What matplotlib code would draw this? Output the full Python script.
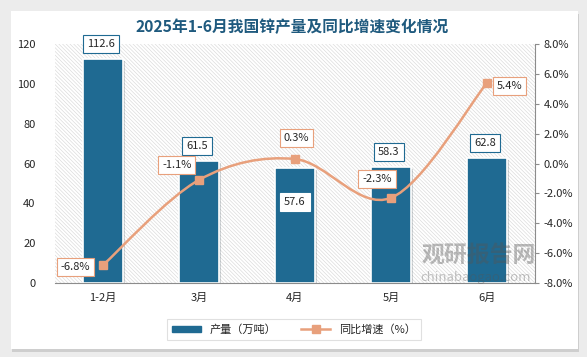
import numpy as np
import matplotlib
matplotlib.use("Agg")
import matplotlib.pyplot as plt
from matplotlib.patches import Rectangle
from matplotlib.path import Path
from matplotlib.patches import PathPatch
from matplotlib import patheffects as pe
from matplotlib.ticker import FuncFormatter

plt.rcParams['font.family'] = ['Noto Sans CJK SC', 'DejaVu Sans']
plt.rcParams['hatch.linewidth'] = 0.45

# data
months = ['1-2月', '3月', '4月', '5月', '6月']
output = [112.6, 61.5, 57.6, 58.3, 62.8]       # 万吨
growth = [-6.8, -1.1, 0.3, -2.3, 5.4]          # %

BAR = '#1f6a92'
LINE = '#e8a07c'
TXT = '#262626'

W, H = 587, 357
fig = plt.figure(figsize=(W / 100, H / 100), dpi=100)
fig.patch.set_facecolor('#ececec')

# white card with a soft shadow
card = Rectangle((11 / W, 1 - 349 / H), 567 / W, 338 / H, transform=fig.transFigure,
                 facecolor='white', edgecolor='none', zorder=-10,
                 path_effects=[pe.SimplePatchShadow(offset=(1, -2), shadow_rgbFace='#bbbbbb', alpha=0.6),
                               pe.Normal()])
fig.patches.append(card)

ax = fig.add_axes([55 / W, 1 - 283 / H, 480 / W, 239 / H])
ax.set_facecolor('none')
ax.add_patch(Rectangle((0, 0), 1, 1, transform=ax.transAxes, facecolor='white',
                       edgecolor='#d9d9d9', linewidth=0, hatch='\\' * 9, zorder=0))

x = np.arange(len(months))
bars = ax.bar(x, output, width=0.42, color=BAR, edgecolor='white', linewidth=1.2, zorder=2,
              path_effects=[pe.SimplePatchShadow(offset=(1.5, -1.5), alpha=0.18), pe.Normal()])
ax.set_xlim(-0.5, len(months) - 0.5)
ax.set_ylim(0, 120)
ax.set_yticks(np.arange(0, 121, 20))
ax.set_xticks(x)
ax.set_xticklabels(months)
ax.tick_params(axis='both', length=0, labelsize=8, colors=TXT)
ax.tick_params(axis='x', pad=7)
ax.tick_params(axis='y', pad=14)
for s in ['top', 'left', 'right']:
    ax.spines[s].set_visible(False)
ax.spines['bottom'].set_color('#8c8c8c')

# bar value labels
for i, v in enumerate(output):
    if i == 2:
        ax.annotate(f'{v}', (x[i], v), xytext=(0, -24), textcoords='offset points',
                    ha='center', va='center', fontsize=8, color=TXT, zorder=5,
                    bbox=dict(boxstyle='square,pad=0.35', fc='white', ec='white', lw=0.8))
    else:
        ax.annotate(f'{v}', (x[i], v), xytext=(-1.5, 10.5), textcoords='offset points',
                    ha='center', va='center', fontsize=8, color=TXT, zorder=5,
                    bbox=dict(boxstyle='square,pad=0.35', fc='white', ec=BAR, lw=0.8))

ax2 = ax.twinx()
ax2.set_ylim(-8, 8)
ax2.set_yticks(np.arange(-8, 8.1, 2))
ax2.yaxis.set_major_formatter(FuncFormatter(lambda v, p: f'{v:.1f}%'))
ax2.tick_params(axis='y', length=3, labelsize=8, colors=TXT, direction='out', pad=3)
ax2.tick_params(axis='y', color='#8c8c8c')
for s in ['top', 'left', 'bottom']:
    ax2.spines[s].set_visible(False)
ax2.spines['right'].set_color('#8c8c8c')

# smooth line through the points (Catmull-Rom style bezier)
pts = np.column_stack([x, growth]).astype(float)
verts = [tuple(pts[0])]
codes = [Path.MOVETO]
n = len(pts)
for i in range(n - 1):
    p0 = pts[i - 1] if i > 0 else pts[i]
    p1 = pts[i]
    p2 = pts[i + 1]
    p3 = pts[i + 2] if i + 2 < n else pts[i + 1]
    c1 = p1 + (p2 - p0) / 6.0
    c2 = p2 - (p3 - p1) / 6.0
    verts += [tuple(c1), tuple(c2), tuple(p2)]
    codes += [Path.CURVE4] * 3
ax2.add_patch(PathPatch(Path(verts, codes), facecolor='none', edgecolor=LINE, lw=1.8, zorder=3))
ax2.plot(x, growth, linestyle='none', marker='s', markersize=6, color=LINE, zorder=4)

offsets = [(-20, -1.5), (-16, 10.5), (1, 15), (-10, 13.5), (16, -2.5)]
for i, v in enumerate(growth):
    ax2.annotate(f'{v}%', (x[i], v), xytext=offsets[i], textcoords='offset points',
                 ha='center', va='center', fontsize=8, color=TXT, zorder=6,
                 bbox=dict(boxstyle='square,pad=0.35', fc='white', ec=LINE, lw=0.8))

# legend
h1 = Rectangle((0, 0), 1, 1, color=BAR)
h2, = ax2.plot([], [], color=LINE, lw=1.8, marker='s', markersize=6)
leg = fig.legend([h1, h2], ['产量（万吨）', '同比增速（%）'], loc='center',
                 bbox_to_anchor=(294 / W, 1 - 329.5 / H), ncol=2, fontsize=8,
                 frameon=True, fancybox=False, edgecolor='#d9d9d9', handlelength=2.6,
                 handleheight=0.5, columnspacing=2.2, borderpad=0.5)
leg.get_frame().set_linewidth(0.8)
for t in leg.get_texts():
    t.set_color(TXT)

# title
fig.text(292 / W, 1 - 27 / H, '2025年1-6月我国锌产量及同比增速变化情况', ha='center', va='center',
         fontsize=11.3, fontweight='bold', color='#1f5a7e')

# watermark
fig.text(479 / W, 1 - 256 / H, '观研报告网', ha='center', va='center', fontsize=16.5,
         fontweight='bold', color='#555555', alpha=0.4, zorder=10)
fig.text(476 / W, 1 - 278 / H, 'chinabaogao.com', ha='center', va='center', fontsize=9.5,
         color='#555555', alpha=0.35, zorder=10)

fig.savefig('out.png', dpi=100, facecolor=fig.get_facecolor())
